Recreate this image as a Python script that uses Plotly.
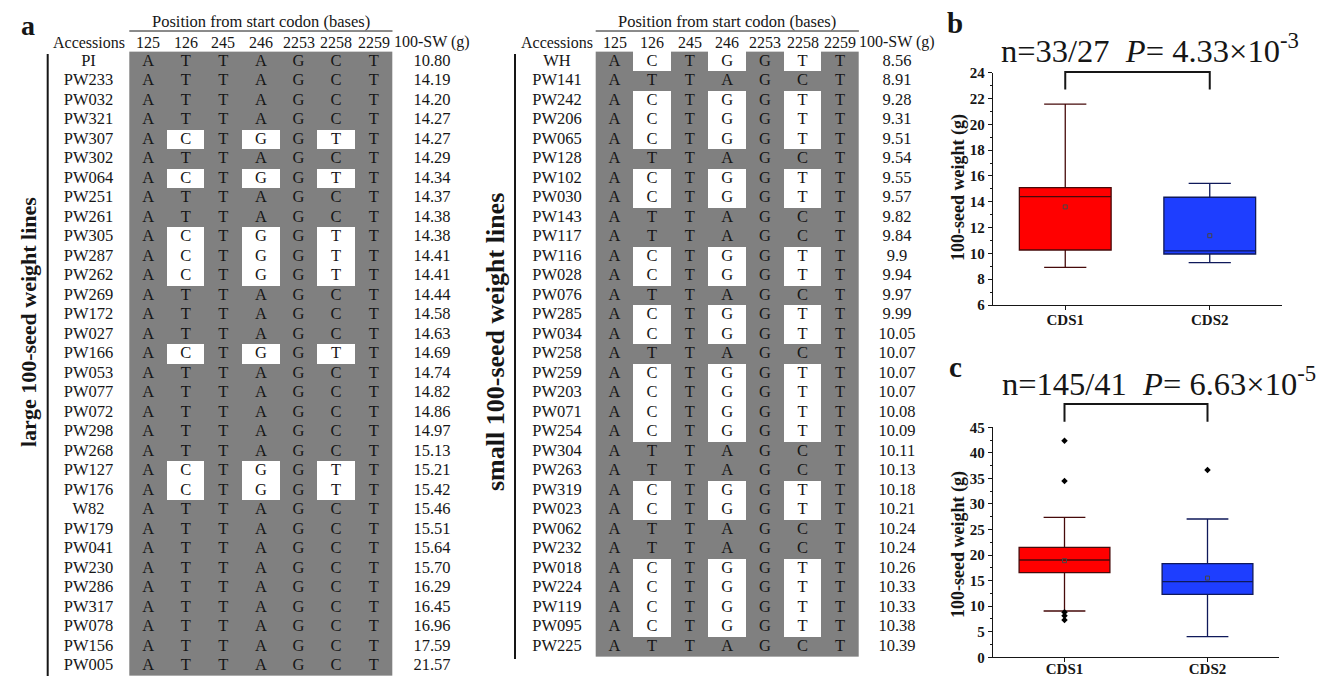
import plotly.graph_objects as go

FONT = "Times New Roman, Liberation Serif, Tinos, serif"
GRAY = "rgb(128,128,128)"
INK = "#161616"

# ---------------- data ----------------
positions = ["125", "126", "245", "246", "2253", "2258", "2259"]
ref_bases = "ATTAGCT"
H1 = "ATTAGCT"
H2 = "ACTGGTT"

large_acc = ["PI", "PW233", "PW032", "PW321", "PW307", "PW302", "PW064", "PW251",
             "PW261", "PW305", "PW287", "PW262", "PW269", "PW172", "PW027", "PW166",
             "PW053", "PW077", "PW072", "PW298", "PW268", "PW127", "PW176", "W82",
             "PW179", "PW041", "PW230", "PW286", "PW317", "PW078", "PW156", "PW005"]
large_hap = [H1, H1, H1, H1, H2, H1, H2, H1,
             H1, H2, H2, H2, H1, H1, H1, H2,
             H1, H1, H1, H1, H1, H2, H2, H1,
             H1, H1, H1, H1, H1, H1, H1, H1]
large_sw = ["10.80", "14.19", "14.20", "14.27", "14.27", "14.29", "14.34", "14.37",
            "14.38", "14.38", "14.41", "14.41", "14.44", "14.58", "14.63", "14.69",
            "14.74", "14.82", "14.86", "14.97", "15.13", "15.21", "15.42", "15.46",
            "15.51", "15.64", "15.70", "16.29", "16.45", "16.96", "17.59", "21.57"]

small_acc = ["WH", "PW141", "PW242", "PW206", "PW065", "PW128", "PW102", "PW030",
             "PW143", "PW117", "PW116", "PW028", "PW076", "PW285", "PW034", "PW258",
             "PW259", "PW203", "PW071", "PW254", "PW304", "PW263", "PW319", "PW023",
             "PW062", "PW232", "PW018", "PW224", "PW119", "PW095", "PW225"]
small_hap = [H2, H1, H2, H2, H2, H1, H2, H2,
             H1, H1, H2, H2, H1, H2, H2, H1,
             H2, H2, H2, H2, H1, H1, H2, H2,
             H1, H1, H2, H2, H2, H2, H1]
small_sw = ["8.56", "8.91", "9.28", "9.31", "9.51", "9.54", "9.55", "9.57",
            "9.82", "9.84", "9.9", "9.94", "9.97", "9.99", "10.05", "10.07",
            "10.07", "10.07", "10.08", "10.09", "10.11", "10.13", "10.18", "10.21",
            "10.24", "10.24", "10.26", "10.33", "10.33", "10.38", "10.39"]

groups = ["CDS1", "CDS2"]
b_q1 = [10.26, 9.95]
b_median = [14.40, 10.20]
b_q3 = [15.09, 14.35]
b_low = [8.91, 9.28]
b_high = [21.57, 15.42]
b_mean = [13.60, 11.37]

c_q1 = [16.55, 12.33]
c_median = [19.04, 14.80]
c_q3 = [21.52, 18.32]
c_low = [9.06, 4.03]
c_high = [27.39, 27.06]
c_mean = [18.90, 15.50]
c_out_cds1 = [42.38, 34.50, 8.80, 8.14, 7.30]
c_out_cds2 = [36.65]

box_fill = ["rgb(255,0,0)", "rgb(30,62,255)"]
box_edge = ["rgb(70,10,10)", "rgb(15,25,90)"]

# ---------------- layout constants (pixels) ----------------
W, H = 1326, 676
ROW0, ROWH, COLW = 61.4, 19.5, 37.6
HEAD_Y = 42.0
TXT = 16.5
HEAD_TXT = 16

fig = go.Figure()
annotations = []
shapes = []


def ann(x, y, text, size=TXT, bold=False, angle=0, xanchor="center", yanchor="middle"):
    annotations.append(dict(
        x=x, y=y, xref="x", yref="y", text=text, showarrow=False,
        textangle=angle, xanchor=xanchor, yanchor=yanchor,
        font=dict(family=FONT, size=size, color=INK, weight="bold" if bold else "normal")))


def add_table(acc, hap, sw, col_x0, name_x, sw_x, bar_x, bar_y1, label, label_x, label_y, label_size):
    col_c = [col_x0 + (j + 0.5) * COLW for j in range(len(positions))]
    row_c = [ROW0 + i * ROWH for i in range(len(acc))]
    z = [[1 if h[j] != ref_bases[j] else 0 for j in range(len(positions))] for h in hap]
    fig.add_trace(go.Heatmap(x=col_c, y=row_c, z=z, zmin=0, zmax=1,
                             colorscale=[[0, GRAY], [1, "white"]], showscale=False,
                             hoverinfo="skip", xaxis="x", yaxis="y"))
    bx, by, bt = [], [], []
    for i, h in enumerate(hap):
        for j, ch in enumerate(h):
            bx.append(col_c[j]); by.append(row_c[i]); bt.append(ch)
    fig.add_trace(go.Scatter(x=bx, y=by, text=bt, mode="text", hoverinfo="skip",
                             textfont=dict(family=FONT, size=TXT, color=INK),
                             showlegend=False, xaxis="x", yaxis="y"))
    fig.add_trace(go.Scatter(x=[name_x] * len(acc), y=row_c, text=acc, mode="text",
                             hoverinfo="skip", textfont=dict(family=FONT, size=TXT, color=INK),
                             showlegend=False, xaxis="x", yaxis="y"))
    fig.add_trace(go.Scatter(x=[sw_x] * len(sw), y=row_c, text=sw, mode="text",
                             hoverinfo="skip", textfont=dict(family=FONT, size=TXT, color=INK),
                             showlegend=False, xaxis="x", yaxis="y"))
    # headers
    ann(name_x, HEAD_Y, "Accessions", size=HEAD_TXT)
    for j, p in enumerate(positions):
        ann(col_c[j], HEAD_Y, p, size=HEAD_TXT)
    ann(sw_x, HEAD_Y, "100-SW (g)", size=HEAD_TXT)
    x_left = col_x0
    x_right = col_x0 + len(positions) * COLW
    ann((x_left + x_right) / 2, 21, "Position from start codon (bases)", size=16.5)
    shapes.append(dict(type="line", xref="x", yref="y", x0=x_left, x1=x_right, y0=31, y1=31,
                       line=dict(color=INK, width=1)))
    shapes.append(dict(type="line", xref="x", yref="y", x0=bar_x, x1=bar_x, y0=54, y1=bar_y1,
                       line=dict(color=INK, width=2)))
    ann(label_x, label_y, label, size=label_size, bold=True, angle=-90)


add_table(large_acc, large_hap, large_sw, 129.3, 88.5, 432.0, 47.7, 680,
          "large 100-seed weight lines", 28, 322, 22)
add_table(small_acc, small_hap, small_sw, 595.7, 557.0, 897.0, 515.0, 659.0,
          "small 100-seed weight lines", 495, 342, 26)

# ---------------- box plots ----------------
panels = [
    dict(xa="x2", ya="y2", x0=993, x1=1282, yb=305, yt=72.7, rng=[6, 24], dtick=2, minor=1,
         q1=b_q1, med=b_median, q3=b_q3, lo=b_low, hi=b_high, mean=b_mean, outs=None,
         title="n=33/27\u00a0\u00a0<i>P</i>= 4.33×10<sup>-3</sup>", tx=1150, ty=48,
         letter="b", lx=955, ly=23, br_top=72.0, br_bot=89.5, ytitle_y=188, standoff=-3),
    dict(xa="x3", ya="y3", x0=993, x1=1279, yb=657.3, yt=427.3, rng=[0, 45], dtick=5, minor=2.5,
         q1=c_q1, med=c_median, q3=c_q3, lo=c_low, hi=c_high, mean=c_mean,
         outs=[c_out_cds1, c_out_cds2],
         title="n=145/41\u00a0\u00a0<i>P</i>= 6.63×10<sup>-5</sup>", tx=1159, ty=381,
         letter="c", lx=955, ly=367, br_top=404.0, br_bot=421.7, ytitle_y=545, standoff=-6),
]

layout_axes = {}
for p in panels:
    for k, g in enumerate(groups):
        fig.add_trace(go.Box(
            x=[g], q1=[p["q1"][k]], median=[p["med"][k]], q3=[p["q3"][k]],
            lowerfence=[p["lo"][k]], upperfence=[p["hi"][k]],
            fillcolor=box_fill[k], line=dict(color=box_edge[k], width=1.3),
            width=0.635, whiskerwidth=0.46, boxpoints=False, hoverinfo="skip",
            showlegend=False, xaxis=p["xa"], yaxis=p["ya"]))
    fig.add_trace(go.Scatter(x=groups, y=p["mean"], mode="markers", hoverinfo="skip",
                             marker=dict(symbol="square-open", size=4, color="rgb(70,70,70)",
                                         line=dict(width=1)),
                             showlegend=False, xaxis=p["xa"], yaxis=p["ya"]))
    if p["outs"]:
        ox, oy = [], []
        for k, vals in enumerate(p["outs"]):
            for v in vals:
                ox.append(groups[k]); oy.append(v)
        fig.add_trace(go.Scatter(x=ox, y=oy, mode="markers", hoverinfo="skip",
                                 marker=dict(symbol="diamond", size=5, color="black"),
                                 showlegend=False, xaxis=p["xa"], yaxis=p["ya"]))
    xname = "xaxis" + p["xa"][1:]
    yname = "yaxis" + p["ya"][1:]
    layout_axes[xname] = dict(
        domain=[p["x0"] / W, p["x1"] / W], anchor=p["ya"], type="category",
        categoryorder="array", categoryarray=groups, range=[-0.5, 1.5],
        showline=True, linecolor=INK, linewidth=1.3, ticks="outside", ticklen=4,
        tickcolor=INK, showgrid=False, zeroline=False, fixedrange=True, automargin=False,
        ticklabelstandoff=p["standoff"],
        tickfont=dict(family=FONT, size=15, color=INK, weight="bold"))
    layout_axes[yname] = dict(
        domain=[(H - p["yb"]) / H, (H - p["yt"]) / H], anchor=p["xa"], range=p["rng"],
        dtick=p["dtick"], tick0=0, showline=True, linecolor=INK, linewidth=1.3,
        ticks="outside", ticklen=4, tickcolor=INK, showgrid=False, zeroline=False,
        fixedrange=True, automargin=False,
        tickfont=dict(family=FONT, size=15, color=INK, weight="bold"),
        minor=dict(ticks="outside", ticklen=2, dtick=p["minor"], tickcolor=INK, showgrid=False))
    ann(p["tx"], p["ty"], p["title"], size=32.5)
    ann(p["lx"], p["ly"], p["letter"], size=29, bold=True)
    ann(958, p["ytitle_y"], "100-seed weight (g)", size=18, bold=True, angle=-90)
    span = p["x1"] - p["x0"]
    cx = [p["x0"] + span * (k + 0.5) / len(groups) for k in range(len(groups))]
    shapes.append(dict(type="path", xref="x", yref="y",
                       path=f"M {cx[0]} {p['br_bot']} L {cx[0]} {p['br_top']} "
                            f"L {cx[1]} {p['br_top']} L {cx[1]} {p['br_bot']}",
                       line=dict(color=INK, width=2)))

ann(28, 25, "a", size=28, bold=True)

fig.update_layout(
    width=W, height=H, margin=dict(l=0, r=0, t=0, b=0, autoexpand=False),
    paper_bgcolor="white", plot_bgcolor="rgba(0,0,0,0)",
    xaxis=dict(domain=[0, 1], range=[0, W], visible=False, fixedrange=True, automargin=False),
    yaxis=dict(domain=[0, 1], range=[H, 0], visible=False, fixedrange=True, automargin=False),
    annotations=annotations, shapes=shapes, showlegend=False, boxmode="overlay",
    **layout_axes,
)

fig.write_html("out.html", post_script="document.body.style.margin='0px';",
               config={"displayModeBar": False})
